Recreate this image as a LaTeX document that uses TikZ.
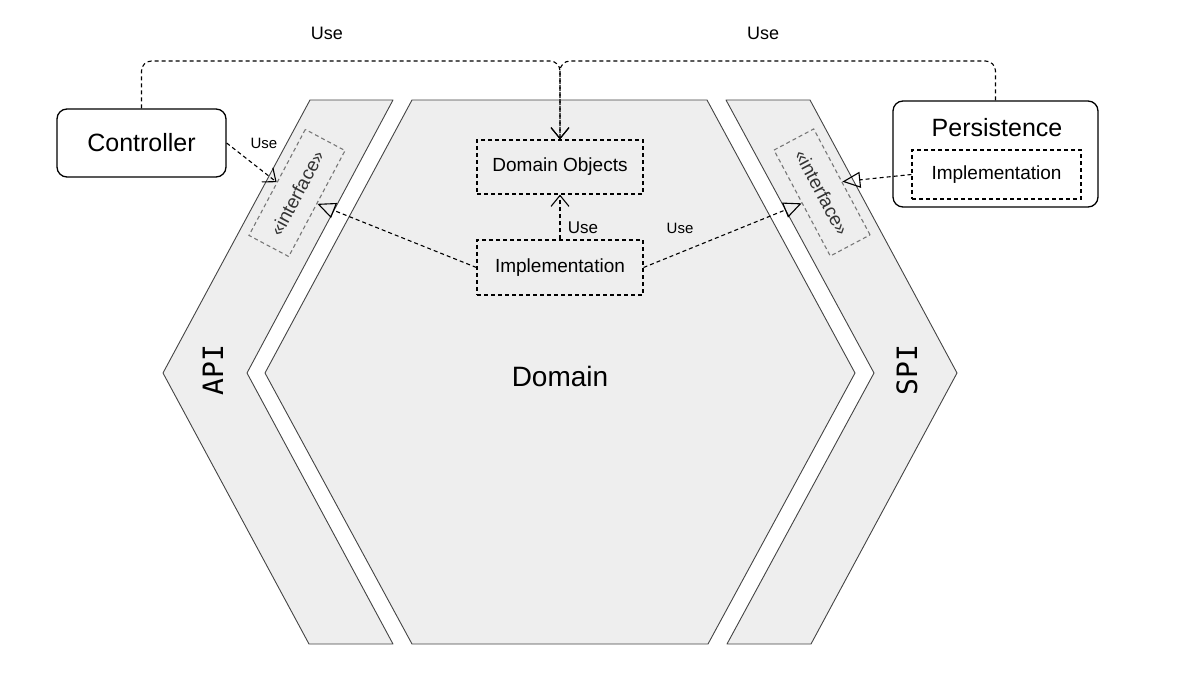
\documentclass[tikz,border=0pt]{standalone}
\usepackage{fontspec}
\setmainfont{Liberation Sans}
\newfontfamily\monofnt{DejaVu Sans Mono}
\usetikzlibrary{arrows.meta}
\definecolor{bandfill}{HTML}{EEEEEE}
\definecolor{bandline}{HTML}{444444}
\definecolor{ifline}{HTML}{777777}
\definecolor{iftext}{HTML}{333333}
\newcommand{\fsz}[1]{\fontsize{#1}{#1}\selectfont}
\begin{document}
\begin{tikzpicture}[x=1pt,y=-1pt,
  band/.style={fill=bandfill, draw=bandline, line width=0.9pt, line join=round},
  solidbox/.style={draw=black, line width=1.3pt, rounded corners=10pt, fill=white, inner sep=0pt},
  dashbox/.style={draw=black, line width=1.1pt, dash pattern=on 4pt off 3pt, inner sep=0pt, font=\fsz{19}},
  ifbox/.style={draw=ifline, line width=1.1pt, dash pattern=on 4pt off 3pt, inner sep=0pt,
    minimum width=120pt, minimum height=45pt, text=iftext, font=\fsz{19}},
  dep/.style={draw=black, line width=1.1pt, dash pattern=on 4pt off 3pt},
  usearrow/.style={-{Straight Barb[length=11pt,width=18pt,line width=1.1pt]}},
  realize/.style={-{Triangle[open,length=18pt,width=16pt,line width=1.1pt]}},
  lbl/.style={inner sep=0pt, text=black}
]
\useasboundingbox (0,0) rectangle (1178,676);

% bands
\path[band] (310,100) -- (393,100) -- (247,373) -- (393,644) -- (309,644) -- (163,373) -- cycle;
\path[band] (412,100) -- (707,100) -- (855,373) -- (708,644) -- (412,644) -- (265,373) -- cycle;
\path[band] (726,100) -- (810,100) -- (957,373) -- (811,644) -- (727,644) -- (874,373) -- cycle;

\node[lbl, rotate=90, font=\monofnt\fsz{28}] (api) at (213,370) {API};
\node[lbl, rotate=90, font=\monofnt\fsz{28}] (spi) at (907,370) {SPI};
\node[lbl, font=\fsz{28}] (domain) at (560,376) {Domain};

% boxes
\node[solidbox, minimum width=169pt, minimum height=68pt, font=\fsz{25}] (ctrl) at (141.5,143) {Controller};
\node[solidbox, minimum width=205pt, minimum height=106pt] (pers) at (995.5,154) {};
\node[lbl, font=\fsz{25}] (perslbl) at (997,128) {Persistence};
\node[dashbox, minimum width=169pt, minimum height=49pt] (pimpl) at (996.5,174.5) {Implementation};
\node[dashbox, minimum width=166pt, minimum height=54pt] (dobj) at (560,167) {Domain Objects};
\node[dashbox, minimum width=166pt, minimum height=55pt] (impl) at (560,267.5) {Implementation};
\node[ifbox, rotate=62] (apiif) at (297,193) {«interface»};
\node[ifbox, rotate=-62] (spiif) at (822,192.5) {«interface»};

% connectors
\coordinate (topj) at (560,61);
\draw[dep, usearrow, rounded corners=10pt] (ctrl.north) |- (topj) -- (dobj.north);
\draw[dep, usearrow, rounded corners=10pt] (pers.north) |- (topj) -- (dobj.north);
\draw[dep, usearrow] (impl.north) -- (dobj.south);
\draw[dep, usearrow] (ctrl.east) -- (apiif.north);
\draw[dep, realize] (impl.west) -- (apiif.south);
\draw[dep, realize] (impl.east) -- (spiif.south);
\draw[dep, realize] (pimpl.west) -- (spiif.north);

% labels
\node[lbl, font=\fsz{18}] (use1) at (327,33) {Use};
\node[lbl, font=\fsz{18}] (use2) at (763,33) {Use};
\node[lbl, font=\fsz{15}] (use3) at (264,143) {Use};
\node[lbl, font=\fsz{17}] (use4) at (583,228) {Use};
\node[lbl, font=\fsz{15}] (use5) at (680,228) {Use};
\end{tikzpicture}
\end{document}
